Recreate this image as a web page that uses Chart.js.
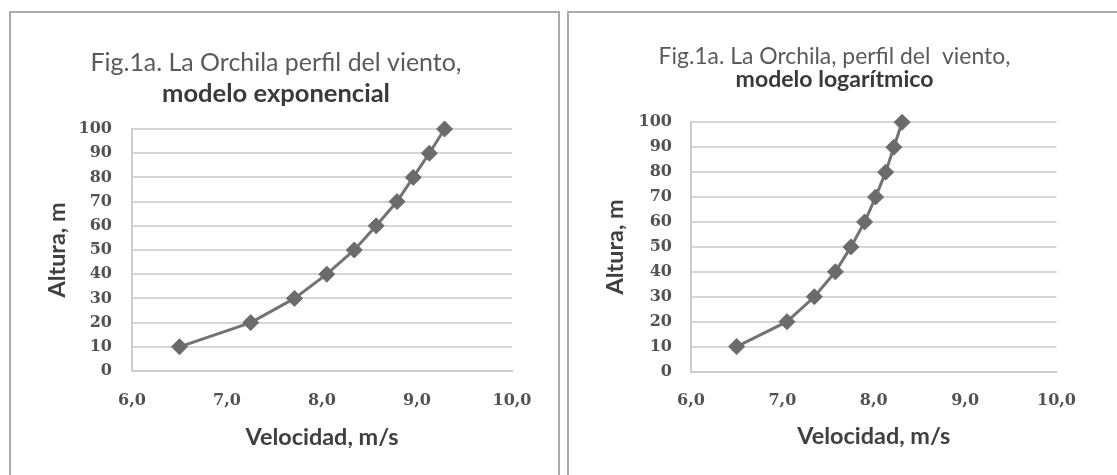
<!DOCTYPE html>
<html><head><meta charset="utf-8">
<script src="https://cdn.jsdelivr.net/npm/chart.js@4.4.0/dist/chart.umd.min.js"></script>
<style>
html,body{margin:0;padding:0;background:#fff;width:1117px;height:475px;overflow:hidden;position:relative}
.box{position:absolute;box-sizing:border-box;border:2px solid #ababab;background:#fff}
canvas{position:absolute}
</style></head><body>
<div class="box" style="left:9px;top:11px;width:551px;height:480px"></div>
<div class="box" style="left:567px;top:11px;width:600px;height:480px"></div>
<canvas id="c1" width="538" height="462" style="left:40px;top:13px"></canvas>
<canvas id="c2" width="502" height="462" style="left:594px;top:13px"></canvas>
<script>
// ---- data ----
const heights = [10, 20, 30, 40, 50, 60, 70, 80, 90, 100];
const speedExp = [6.50, 7.25, 7.71, 8.05, 8.34, 8.57, 8.79, 8.96, 9.13, 9.29];
const speedLog = [6.50, 7.05, 7.35, 7.58, 7.75, 7.90, 8.02, 8.13, 8.22, 8.31];
const xTicks = [6, 7, 8, 9, 10];
const yTicks = [0, 10, 20, 30, 40, 50, 60, 70, 80, 90, 100];
const titleExp = ['Fig.1a. La Orchila perfil del viento,', 'modelo exponencial'];
const titleLog = ['Fig.1a. La Orchila, perfil del  viento,', 'modelo logarítmico'];
const xLabel = 'Velocidad, m/s';
const yLabel = 'Altura, m';

// ---- styling ----
const FAM = 'Lato';
const TICKFAM = 'DejaVu Serif';

function fitSize(text, weight, target) {
  const ctx = document.createElement('canvas').getContext('2d');
  ctx.font = weight + ' 100px ' + FAM;
  return 100 * target / ctx.measureText(text).width;
}

function build(id, speeds, title, g) {
  const canvas = document.getElementById(id);
  const W = canvas.width, H = canvas.height;
  const s1 = fitSize(title[0], 'normal', g.t1w);
  const s2 = fitSize(title[1], 'bold', g.t2w);
  const sA = fitSize(xLabel, 'bold', g.axw);
  const h1 = s1 * 1.2, h2 = s2 * 1.2, hA = sA * 1.2;
  const T1 = g.t1y - h1 / 2;
  const mid = g.t2y - g.t1y - h1 / 2 - h2 / 2;
  const B2 = g.top - g.t2y - h2 / 2;
  const tickFont = {family: TICKFAM, size: 16, weight: 'bold', lineHeight: 1.2};
  return new Chart(canvas, {
    type: 'scatter',
    data: {
      datasets: [{
        data: heights.map((h, i) => ({x: speeds[i], y: h})),
        showLine: true,
        borderColor: '#737373',
        borderWidth: 3,
        backgroundColor: '#6b6b6b',
        pointStyle: 'rectRot',
        pointRadius: 8,
        pointBorderWidth: 1,
        pointBorderColor: '#6b6b6b',
        tension: 0,
        clip: false
      }]
    },
    options: {
      responsive: false,
      animation: false,
      devicePixelRatio: 1,
      layout: {padding: {left: 0, top: 0, right: W - g.right, bottom: 0}},
      plugins: {
        legend: {display: false},
        tooltip: {enabled: false},
        title: {
          display: true, text: title[0], color: '#5a5a5a',
          font: {family: FAM, size: s1, weight: 'normal', lineHeight: 1.2},
          padding: {top: T1, bottom: mid / 2}
        },
        subtitle: {
          display: true, text: title[1], color: '#3a3a3a',
          font: {family: FAM, size: s2, weight: 'bold', lineHeight: 1.2},
          padding: {top: mid / 2, bottom: B2}
        }
      },
      scales: {
        x: {
          type: 'linear', min: 6, max: 10,
          afterBuildTicks: s => { s.ticks = xTicks.map(v => ({value: v})); },
          afterFit: s => { s.height = H - g.bottom; },
          grid: {display: false, drawTicks: false},
          border: {display: true, color: '#cdcdcd', width: 2},
          ticks: {
            padding: g.xtp, color: '#525252', font: tickFont,
            maxRotation: 0, autoSkip: false,
            callback: v => v.toFixed(1).replace('.', ',')
          },
          title: {
            display: true, text: xLabel, color: '#404040',
            font: {family: FAM, size: sA, weight: 'bold', lineHeight: 1.2},
            padding: {top: 0, bottom: H - g.xty - hA / 2}
          }
        },
        y: {
          type: 'linear', min: 0, max: 100,
          afterBuildTicks: s => { s.ticks = yTicks.map(v => ({value: v})); },
          afterFit: s => { s.width = g.left; },
          grid: {color: '#d6d6d6', lineWidth: 2, drawTicks: false},
          border: {display: true, color: '#cdcdcd', width: 2},
          ticks: {padding: g.ytp, color: '#525252', font: tickFont, autoSkip: false},
          title: {
            display: true, text: yLabel, color: '#404040',
            font: {family: FAM, size: sA, weight: 'bold', lineHeight: 1.2},
            padding: {top: g.ytx - hA / 2, bottom: 0}
          }
        }
      }
    }
  });
}

build('c1', speedExp, titleExp, {
  left: 92, right: 472, top: 116, bottom: 358,
  t1y: 50, t2y: 81, t1w: 371, t2w: 228,
  axw: 153, xtp: 20.4, xty: 424, ytp: 20, ytx: 17
});
build('c2', speedLog, titleLog, {
  left: 97, right: 481, top: 109.3, bottom: 358.5,
  t1y: 44, t2y: 66.5, t1w: 352, t2w: 198,
  axw: 153, xtp: 20, xty: 423, ytp: 19, ytx: 21
});
</script>
</body></html>
